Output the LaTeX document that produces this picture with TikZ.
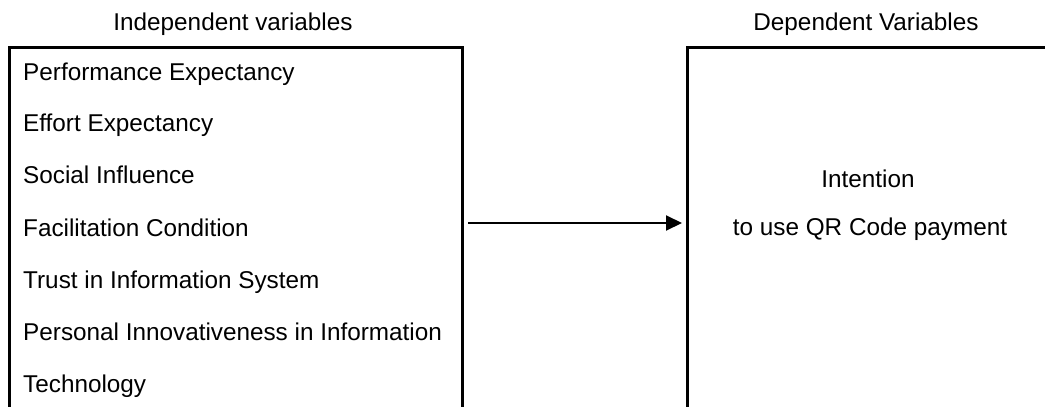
\documentclass[tikz,border=0pt]{standalone}
\usepackage{fontspec}
\setmainfont{Liberation Sans}
\usetikzlibrary{arrows.meta}
\tikzset{
  varbox/.style={draw, line width=3pt, anchor=north west, inner sep=0pt},
  item/.style={anchor=base west, inner sep=0pt},
  title/.style={anchor=base, inner sep=0pt},
  arrow/.style={line width=2pt, -{Triangle[length=16pt,width=15pt]}}
}
\begin{document}
\begin{tikzpicture}[x=1pt,y=-1pt]\fontsize{24.3}{29}\selectfont
  \useasboundingbox (0,0) rectangle (1045,407);
  \clip (0,0) rectangle (1045,407);
  % headings
  \node[title] (indeptitle) at (233,30) {Independent variables};
  \node[title] (deptitle) at (866,30) {Dependent Variables};
  % boxes, open past the bottom edge
  \node[varbox, minimum width=453pt, minimum height=420pt] (indep) at (8,46) {};
  \node[varbox, minimum width=420pt, minimum height=420pt] (dep) at (686,46) {};
  % independent variables
  \node[item] (pe) at (23,80) {Performance Expectancy};
  \node[item] (ee) at (23,131) {Effort Expectancy};
  \node[item] (si) at (23,183) {Social Influence};
  \node[item] (fc) at (23,236) {Facilitation Condition};
  \node[item] (tis) at (23,288) {Trust in Information System};
  \node[item] (pii) at (23,340) {Personal Innovativeness in Information};
  \node[item] (tech) at (23,392) {Technology};
  % dependent variable
  \node[title] (int1) at (868,187) {Intention};
  \node[title] (int2) at (870,235) {to use QR Code payment};
  \draw[arrow] ([shift={(4pt,-177pt)}]indep.north east) -- ([shift={(-4pt,-177pt)}]dep.north west);
\end{tikzpicture}
\end{document}
